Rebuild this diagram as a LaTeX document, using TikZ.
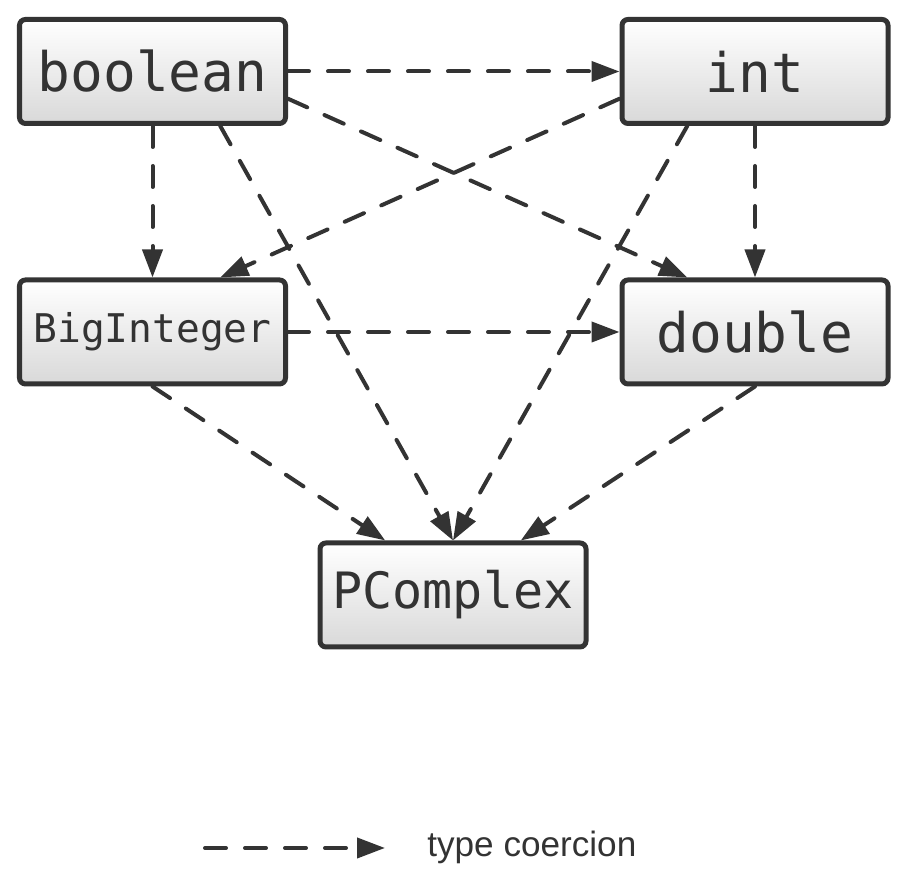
\documentclass[tikz,border=0pt]{standalone}
\usepackage{fontspec}
\setmainfont{Liberation Sans}
\newfontfamily\codefont{DejaVu Sans Mono}
\usetikzlibrary{arrows.meta,calc}
\definecolor{inkgray}{HTML}{333333}

\begin{document}
\begin{tikzpicture}
\tikzstyle{typebox}=[rectangle, draw=inkgray, line width=0.1cm, rounded corners=0.12cm,
    top color=white, bottom color=black!15, text=inkgray,
    minimum width=5.32cm, minimum height=2.08cm]
\tikzstyle{coerce}=[draw=inkgray, line width=0.08cm, line cap=round,
    dash pattern=on 0.42cm off 0.38cm, -{Triangle[length=0.56cm,width=0.4cm]}]

\useasboundingbox (0,0) rectangle (18,17.9);

    \node[typebox, font={\codefont\fontsize{31}{36}\selectfont}] (boolean) at (3.05,16.47) {boolean};
    \node[typebox, font={\codefont\fontsize{31}{36}\selectfont}] (int) at (15.10,16.47) {int};
    \node[typebox, font={\codefont\fontsize{22.5}{26}\selectfont}] (BigInteger) at (3.05,11.26) {BigInteger};
    \node[typebox, font={\codefont\fontsize{31}{36}\selectfont}] (double) at (15.10,11.26) {double};
    \node[typebox, font={\codefont\fontsize{28.5}{34}\selectfont}] (PComplex) at (9.06,6.0) {PComplex};

\draw[coerce] (boolean) -- (int);
\draw[coerce] (boolean) -- (BigInteger);
\draw[coerce] ($(boolean.south east)!.25!(boolean.north east)$) -- ($(double.north west)!.25!(double.north east)$);
\draw[coerce] ($(boolean.south west)!.75!(boolean.south east)$) -- (PComplex.north);
\draw[coerce] ($(int.south west)!.25!(int.north west)$) -- ($(BigInteger.north west)!.75!(BigInteger.north east)$);
\draw[coerce] (int) -- (double);
\draw[coerce] ($(int.south west)!.25!(int.south east)$) -- (PComplex.north);
\draw[coerce] (BigInteger) -- (double);
\draw[coerce] (BigInteger.south) -- ($(PComplex.north west)!.25!(PComplex.north east)$);
\draw[coerce] (double.south) -- ($(PComplex.north west)!.75!(PComplex.north east)$);

% legend
\coordinate (legstart) at (4.10,0.94);
\coordinate (legend end) at (7.70,0.94);
\node[anchor=base west, inner sep=0, text=inkgray, font=\fontsize{20}{24}\selectfont] (legend) at (8.54,0.76) {type coercion};
\draw[coerce] (legstart) -- (legend end);

\end{tikzpicture}
\end{document}
